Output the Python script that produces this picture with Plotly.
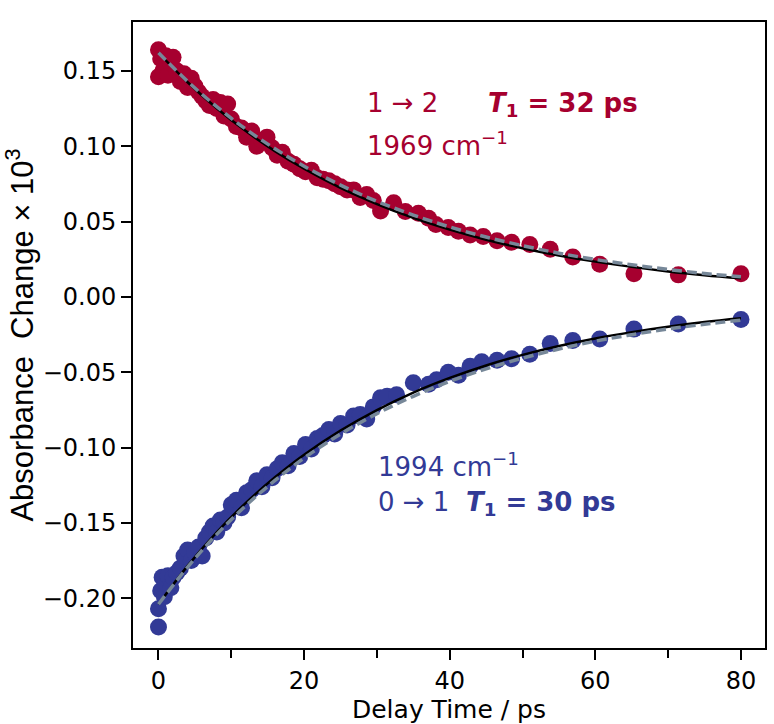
import plotly.graph_objects as go

# ---- data ----
red_t = [0, 0, 0.3, 0.6, 1.0, 1.3, 1.7, 2.0, 2.5, 3.0, 3.5, 4.0, 4.5, 5.0, 5.5, 6.0, 6.5,
         7.0, 7.5, 8.0, 8.5, 9.0, 9.5, 10.0, 10.7, 11.4, 12.1, 12.8, 13.5, 14.2, 14.9, 15.6,
         16.3, 17.0, 17.8, 18.6, 19.4, 20.2, 21.0, 21.8, 22.6, 23.4, 24.2, 25.0, 25.9, 26.8,
         27.7, 28.6, 29.5, 30.5, 32.3, 33.9, 35.7, 37.1, 38.1, 39.8, 41.2, 42.8, 44.6, 46.5,
         48.5, 51.0, 53.8, 56.9, 60.6, 65.3, 71.4, 80.0]
red_v = [0.164, 0.146, 0.158, 0.150, 0.160, 0.147, 0.155, 0.159, 0.150, 0.143, 0.148,
         0.139, 0.145, 0.140, 0.136, 0.133, 0.130, 0.127, 0.131, 0.125, 0.129, 0.120, 0.128,
         0.118, 0.113, 0.112, 0.106, 0.110, 0.100, 0.104, 0.106, 0.099, 0.094, 0.096, 0.090,
         0.088, 0.085, 0.083, 0.084, 0.079, 0.078, 0.077, 0.075, 0.073, 0.071, 0.071, 0.066,
         0.068, 0.064, 0.057, 0.0625, 0.0566, 0.0555, 0.0522, 0.0480, 0.0460, 0.0436, 0.0411,
         0.0400, 0.0372, 0.0362, 0.0348, 0.0316, 0.0265, 0.0217, 0.0153, 0.0146, 0.0153]

blue_t = [0, 0, 0.3, 0.5, 0.8, 1.0, 1.3, 1.7, 2.0, 2.5, 3.0, 3.5, 4.0, 4.5, 5.0, 5.5, 6.0, 6.5,
          7.0, 7.5, 8.0, 8.5, 9.0, 9.5, 10.0, 10.7, 11.4, 12.1, 12.8, 13.5, 14.2, 14.9, 15.6,
          16.3, 17.0, 17.8, 18.6, 19.4, 20.2, 21.0, 21.8, 22.6, 23.4, 24.2, 25.0, 25.9, 26.8,
          27.7, 28.6, 29.5, 30.5, 31.4, 32.7, 35.0, 37.1, 38.2, 39.8, 41.2, 42.8, 44.4, 46.5,
          48.5, 51.0, 53.8, 56.9, 60.6, 65.3, 71.4, 80.0]
blue_v = [-0.219, -0.207, -0.195, -0.186, -0.199, -0.190, -0.185, -0.193, -0.186, -0.183,
          -0.180, -0.172, -0.168, -0.175, -0.170, -0.166, -0.172, -0.160, -0.156, -0.152,
          -0.156, -0.148, -0.150, -0.146, -0.138, -0.135, -0.140, -0.130, -0.128, -0.122,
          -0.126, -0.118, -0.120, -0.114, -0.110, -0.112, -0.104, -0.106, -0.098, -0.101,
          -0.094, -0.092, -0.088, -0.091, -0.084, -0.085, -0.079, -0.078, -0.081, -0.073,
          -0.067, -0.066, -0.065, -0.057, -0.058, -0.055, -0.050, -0.052, -0.046, -0.043,
          -0.042, -0.041, -0.038, -0.031, -0.029, -0.028, -0.0214, -0.018, -0.015]

fit_t = [0, 4, 8, 12, 16, 20, 25, 30, 35, 40, 45, 50, 55, 60, 65, 70, 75, 80]
red_fit_solid = [0.162, 0.1424, 0.1252, 0.1100, 0.0967, 0.0850, 0.0723, 0.0616, 0.0524,
                 0.0446, 0.0379, 0.0323, 0.0275, 0.0234, 0.0199, 0.0169, 0.0144, 0.0123]
red_fit_dash = [0.162, 0.1430, 0.1262, 0.1113, 0.0983, 0.0867, 0.0742, 0.0634, 0.0543,
                0.0464, 0.0397, 0.0340, 0.0290, 0.0248, 0.0213, 0.0182, 0.0155, 0.0133]
blue_fit_solid = [-0.204, -0.1785, -0.1562, -0.1367, -0.1197, -0.1047, -0.0887, -0.0751,
                  -0.0635, -0.0538, -0.0455, -0.0385, -0.0326, -0.0276, -0.0234, -0.0198,
                  -0.0167, -0.0142]
blue_fit_dash = [-0.204, -0.1793, -0.1576, -0.1385, -0.1218, -0.1070, -0.0911, -0.0775,
                 -0.0660, -0.0561, -0.0478, -0.0407, -0.0346, -0.0294, -0.0251, -0.0213,
                 -0.0182, -0.0154]

x_ticks = [0, 20, 40, 60, 80]
y_ticks = [-0.20, -0.15, -0.10, -0.05, 0.00, 0.05, 0.10, 0.15]

RED = "#a6002f"
BLUE = "#323a96"
GRAY = "#778899"

fig = go.Figure()
fig.add_trace(go.Scatter(x=red_t, y=red_v, mode="markers",
                         marker=dict(color=RED, size=17, line=dict(width=0))))
fig.add_trace(go.Scatter(x=blue_t, y=blue_v, mode="markers",
                         marker=dict(color=BLUE, size=17, line=dict(width=0))))
for ys in (red_fit_solid, blue_fit_solid):
    fig.add_trace(go.Scatter(x=fit_t, y=ys, mode="lines", line_shape="spline",
                             line=dict(color="black", width=2.5)))
for ys in (red_fit_dash, blue_fit_dash):
    fig.add_trace(go.Scatter(x=fit_t, y=ys, mode="lines", line_shape="spline",
                             line=dict(color=GRAY, width=3.5, dash="10px,5px")))

FONT = "DejaVu Sans"
nb = "\u00a0"
ann = [
    dict(x=28.4, y=0.1277, text="1 → 2" + nb * 6 + "<b><i>T</i><sub>1</sub> = 32 ps</b>", color=RED),
    dict(x=28.4, y=0.1015, text="1969 cm<sup>−1</sup>", color=RED),
    dict(x=29.9, y=-0.1114, text="1994 cm<sup>−1</sup>", color=BLUE),
    dict(x=29.9, y=-0.1373, text="0 → 1" + nb * 2 + "<b><i>T</i><sub>1</sub> = 30 ps</b>", color=BLUE),
]
for a in ann:
    fig.add_annotation(x=a["x"], y=a["y"], xref="x", yref="y", text=a["text"], showarrow=False,
                       xanchor="left", yanchor="middle",
                       font=dict(family=FONT, size=26, color=a["color"]))

fig.update_layout(
    width=774, height=724,
    margin=dict(l=133, r=9, t=22, b=76),
    paper_bgcolor="white", plot_bgcolor="white",
    showlegend=False,
    font=dict(family=FONT, color="black"),
)
fig.update_xaxes(range=[-3.5, 83.3], tickvals=x_ticks, ticks="outside", ticklen=10, tickwidth=2,
                 tickcolor="black", showline=True, linecolor="black", linewidth=2, mirror=True,
                 showgrid=False, zeroline=False, tickfont=dict(family=FONT, size=24),
                 ticklabelstandoff=0, automargin=False,
                 minor=dict(dtick=10, tick0=0, ticks="outside", ticklen=8, tickwidth=2, tickcolor="black"),
                 title=dict(text="Delay Time / ps", font=dict(family=FONT, size=25), standoff=12))
fig.update_yaxes(range=[-0.233, 0.1824], tickvals=y_ticks, tickformat=".2f", ticks="outside",
                 ticklen=10, tickwidth=2, tickcolor="black", showline=True, linecolor="black",
                 linewidth=2, mirror=True, showgrid=False, zeroline=False, automargin=False,
                 tickfont=dict(family=FONT, size=24),
                 title=dict(text="Absorbance" + nb + " Change × 10<sup>3</sup>",
                            font=dict(family="Liberation Sans", size=31), standoff=6))

fig.write_html("out.html")
